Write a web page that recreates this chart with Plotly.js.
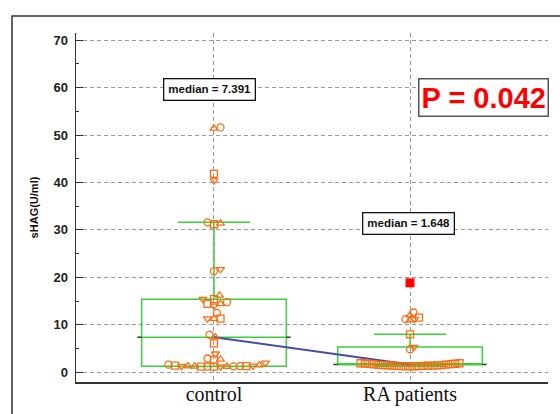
<!DOCTYPE html>
<html>
<head>
<meta charset="utf-8">
<script src="https://cdn.plot.ly/plotly-3.0.1.min.js"></script>
<style>html,body{margin:0;padding:0;background:#fff;}#chart{width:560px;height:414px;}</style>
</head>
<body>
<div id="chart"></div>
<script>
// ---- data ----
const categories = ['control', 'RA patients'];
const controlValues = [51.6, 51.4, 41.8, 40.4, 31.6, 31.4, 31.2, 21.7, 21.3, 16.2,
  15.4, 15.4, 14.8, 14.4, 14.4, 14.0, 12.5, 11.3, 11.3, 11.3,
  7.9, 7.391, 6.1, 3.9, 2.9, 2.7, 2.6, 2.0, 1.6, 1.5,
  1.4, 1.35, 1.3, 1.3, 1.3, 1.3, 1.25, 1.25, 1.2, 1.2, 1.2, 1.2, 1.2];
const raValues = [12.6, 12.0, 11.5, 11.2, 11.2, 11.0, 8.0, 5.3, 4.85,
  1.9, 1.9, 1.85, 1.8, 1.75, 1.7, 1.648,
  1.6, 1.55, 1.5, 1.5, 1.45, 1.45, 1.4, 1.4, 1.4, 1.35, 1.35, 1.3, 1.3, 1.3, 1.25, 1.25];
const raOutliers = [18.85];
const boxQ1 = [1.27, 1.6];
const boxMedian = [7.391, 1.648];
const boxQ3 = [15.4, 5.34];
const boxLower = [1.2, 1.25];
const boxUpper = [31.6, 8.0];
const yTickVals = [0, 10, 20, 30, 40, 50, 60, 70];
const medianLabels = ['median = 7.391', 'median = 1.648'];
const pValueLabel = 'P = 0.042';
const yTitle = 'sHAG(U/ml)';

// ---- layout constants ----
const W = 560, H = 414;
const M = {l: 76, r: 12, t: 33, b: 32};
const xRange = [-0.704, 1.704];
const yRange = [-2.05, 71.5];
const pxPerX = (W - M.l - M.r) / (xRange[1] - xRange[0]);
const pxPerY = (H - M.t - M.b) / (yRange[1] - yRange[0]);
const boxWidth = 0.738;
const orange = '#ff6a10';
const green = '#3ccf3c';
const symbolCycle = ['circle-open', 'triangle-up-open', 'square-open', 'triangle-down-open'];

// simple deterministic beeswarm layout (pixel space)
function swarm(vals, d) {
  const idx = vals.map((v, i) => i).sort((a, b) => vals[a] - vals[b]);
  const placed = [];
  const off = new Array(vals.length).fill(0);
  for (const i of idx) {
    const py = vals[i] * pxPerY;
    let chosen = 0;
    for (let k = 0; k < 600; k++) {
      const cands = k === 0 ? [0] : [k * 0.5, -k * 0.5];
      let found = null;
      for (const c of cands) {
        if (placed.every(p => (p.x - c) ** 2 + (p.y - py) ** 2 >= d * d)) { found = c; break; }
      }
      if (found !== null) { chosen = found; break; }
    }
    placed.push({x: chosen, y: py});
    off[i] = chosen / pxPerX;
  }
  return off;
}

const ctrlOff = swarm(controlValues, 6.3);
const raOff = swarm(raValues, 4.3);

const traces = [];
traces.push({
  type: 'box', x: [0, 1], q1: boxQ1, median: boxMedian, q3: boxQ3,
  lowerfence: boxLower, upperfence: boxUpper,
  width: boxWidth, whiskerwidth: 0.5, boxpoints: false,
  line: {color: green, width: 1.5}, fillcolor: 'rgba(0,0,0,0)',
  hoverinfo: 'skip', showlegend: false
});
// median end ticks
const tx = [], ty = [];
boxMedian.forEach((m, i) => {
  tx.push(i - boxWidth / 2 - 0.022, i - boxWidth / 2, null, i + boxWidth / 2, i + boxWidth / 2 + 0.022, null);
  ty.push(m, m, null, m, m, null);
});
traces.push({type: 'scatter', mode: 'lines', x: tx, y: ty, line: {color: '#333', width: 1.5}, showlegend: false, hoverinfo: 'skip'});
// x-axis category tick marks (below the axis line)
const kx = [], ky = [];
categories.forEach((c, i) => { kx.push(i, i, null); ky.push(yRange[0], yRange[0] - 10 / pxPerY, null); });
traces.push({type: 'scatter', mode: 'lines', x: kx, y: ky, cliponaxis: false, line: {color: '#444', width: 1.2}, showlegend: false, hoverinfo: 'skip'});
// connecting median line
traces.push({type: 'scatter', mode: 'lines', x: [0, 1], y: boxMedian, line: {color: '#4a4aa8', width: 2}, showlegend: false});
// points
traces.push({
  type: 'scatter', mode: 'markers',
  x: controlValues.map((v, i) => 0 + ctrlOff[i]), y: controlValues,
  marker: {symbol: controlValues.map((v, i) => symbolCycle[i % 4]), size: 7, color: orange, line: {width: 1.3, color: orange}},
  showlegend: false
});
traces.push({
  type: 'scatter', mode: 'markers',
  x: raValues.map((v, i) => 1 + raOff[i]), y: raValues,
  marker: {symbol: raValues.map((v, i) => v < 2 ? 'square-open' : symbolCycle[i % 4]), size: 7, color: orange, line: {width: 1.3, color: orange}},
  showlegend: false
});
traces.push({
  type: 'scatter', mode: 'markers', x: raOutliers.map(() => 1), y: raOutliers,
  marker: {symbol: 'square', size: 9, color: '#ff0000'}, showlegend: false
});

const gridDash = '4px,3px';
const layout = {
  width: W, height: H, margin: M,
  paper_bgcolor: '#fff', plot_bgcolor: '#fff',
  showlegend: false,
  xaxis: {
    range: xRange, tickmode: 'array', tickvals: [0, 1], ticktext: categories,
    showgrid: true, gridcolor: '#9a9a9a', griddash: gridDash, gridwidth: 1,
    zeroline: false, showline: true, linecolor: '#333', linewidth: 1.5,
    ticks: '',
    tickfont: {family: 'Times New Roman, Liberation Serif, serif', size: 20, color: '#111'},
    ticklabelstandoff: -7
  },
  yaxis: {
    range: yRange, tickmode: 'array', tickvals: yTickVals,
    showgrid: true, gridcolor: '#9a9a9a', griddash: gridDash, gridwidth: 1,
    zeroline: false, showline: true, linecolor: '#333', linewidth: 1.5,
    ticks: 'inside', ticklen: 7, tickcolor: '#333',
    minor: {dtick: 5, tick0: 0, ticks: 'inside', ticklen: 3, tickcolor: '#333', showgrid: false},
    tickfont: {family: 'Arial, Liberation Sans, sans-serif', size: 13, color: '#222', weight: 'bold'},
    ticklabelstandoff: 4,
    title: {text: '<b>' + yTitle + '</b>', font: {family: 'Arial, Liberation Sans, sans-serif', size: 11, color: '#111'}, standoff: 12}
  },
  shapes: [{
    type: 'rect', xref: 'paper', yref: 'paper',
    x0: (12 - M.l) / (W - M.l - M.r), x1: (590 - M.l) / (W - M.l - M.r),
    y0: (H - M.b - 16) / (H - M.t - M.b), y1: (H - M.b - 440) / (H - M.t - M.b),
    line: {color: '#333', width: 1.5}, layer: 'above'
  }],
  annotations: [
    {x: 0, y: 59.6, xref: 'x', yref: 'y', text: '<b>' + medianLabels[0] + '</b>', showarrow: false, xshift: -4,
     font: {family: 'Arial, Liberation Sans, sans-serif', size: 11.5, color: '#111'},
     bgcolor: '#fff', bordercolor: '#111', borderwidth: 1.3, borderpad: 4},
    {x: 1, y: 31.4, xref: 'x', yref: 'y', text: '<b>' + medianLabels[1] + '</b>', showarrow: false, xshift: -2,
     font: {family: 'Arial, Liberation Sans, sans-serif', size: 11.5, color: '#111'},
     bgcolor: '#fff', bordercolor: '#111', borderwidth: 1.3, borderpad: 4},
    {x: 1.376, y: 58.0, xref: 'x', yref: 'y', text: '<b>' + pValueLabel + '</b>', showarrow: false,
     font: {family: 'Arial, Liberation Sans, sans-serif', size: 29, color: '#ff0000'},
     bgcolor: '#fff', bordercolor: '#555', borderwidth: 1.5, borderpad: 2}
  ]
};

Plotly.newPlot('chart', traces, layout, {staticPlot: true, displayModeBar: false});
</script>
</body>
</html>
